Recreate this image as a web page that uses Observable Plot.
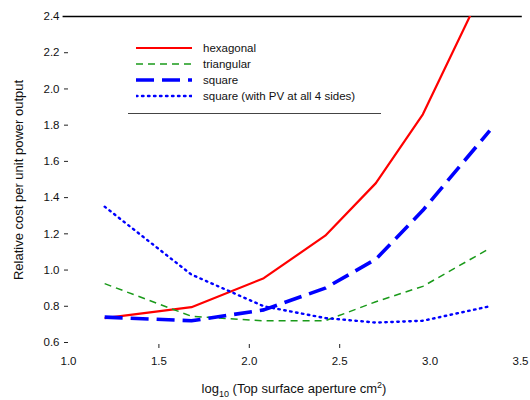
<!DOCTYPE html>
<html>
<head>
<meta charset="utf-8">
<script src="https://cdn.jsdelivr.net/npm/d3@7"></script>
<script src="https://cdn.jsdelivr.net/npm/@observablehq/plot@0.6"></script>
<style>
  body { margin: 0; background: #fff; }
  #wrap { position: relative; width: 530px; height: 400px; font-family: "Liberation Sans", Arial, sans-serif; }
  #legend { position: absolute; left: 128px; top: 40px; width: 253px; font-size: 11.5px; color: #111; }
  #legend .row { display: flex; align-items: center; height: 16px; }
  #legend svg { margin-left: 8px; margin-right: 11px; }
  #legend .sep { position: absolute; left: 0; top: 73px; width: 253px; height: 0; border-top: 1.3px solid #444; }
</style>
</head>
<body>
<div id="wrap"></div>
<script>
// Data
const xs        = [1.2, 1.68, 2.08, 2.42, 2.70, 2.96, 3.33];
const hexagonal = [0.735, 0.795, 0.955, 1.19, 1.48, 1.86, 2.63];
const triangular= [0.925, 0.745, 0.72, 0.72, 0.825, 0.91, 1.12];
const square    = [0.74, 0.72, 0.78, 0.90, 1.06, 1.33, 1.77];
const squarePV  = [1.35, 0.975, 0.80, 0.735, 0.71, 0.72, 0.80];
const seriesNames = ["hexagonal", "triangular", "square", "square (with PV at all 4 sides)"];
const yTicks = [0.6, 0.8, 1.0, 1.2, 1.4, 1.6, 1.8, 2.0, 2.2, 2.4];
const xTicks = [1.0, 1.5, 2.0, 2.5, 3.0, 3.5];
const xTickMarks = [1.5, 2.0, 2.5];

const styles = {
  "hexagonal": {stroke: "#ff0000", strokeWidth: 2.2, strokeDasharray: null},
  "triangular": {stroke: "#1a9a1a", strokeWidth: 1.5, strokeDasharray: "7,5"},
  "square": {stroke: "#0000ff", strokeWidth: 3.6, strokeDasharray: "18,8"},
  "square (with PV at all 4 sides)": {stroke: "#0000ff", strokeWidth: 2.4, strokeDasharray: "1.5,4.5"}
};
const values = [hexagonal, triangular, square, squarePV];

const lineMarks = seriesNames.map((name, i) => {
  const data = xs.map((x, j) => ({x, y: values[i][j]}));
  const s = styles[name];
  return Plot.line(data, {x: "x", y: "y", stroke: s.stroke, strokeWidth: s.strokeWidth,
    strokeDasharray: s.strokeDasharray, strokeLinecap: s.strokeDasharray && s.strokeDasharray.startsWith("1.5") ? "round" : "butt",
    clip: true});
});

const chart = Plot.plot({
  width: 530,
  height: 400,
  marginLeft: 68,
  marginRight: 10,
  marginTop: 16,
  marginBottom: 58,
  style: {fontFamily: "Liberation Sans, Arial, sans-serif", fontSize: "11.5px", color: "#111", background: "white"},
  x: {domain: [1.0, 3.5]},
  y: {domain: [0.6, 2.4]},
  marks: [
    Plot.axisY(yTicks, {tickFormat: d3.format(".1f"), tickSize: 4, tickPadding: 5, label: null, stroke: "#222", fill: "#111"}),
    Plot.axisX(xTicks, {tickFormat: d3.format(".1f"), tickSize: 0, tickPadding: 14, label: null, fill: "#111"}),
    Plot.axisX(xTickMarks, {text: null, tickSize: 4, dy: 2, stroke: "#222", label: null}),
    Plot.ruleY([2.4], {stroke: "#000", strokeWidth: 1.5, x1: 0.97, x2: 3.51}),
    ...lineMarks
  ]
});

const svg = d3.select(chart);
// Y axis title
svg.append("text")
  .attr("transform", "translate(23,180) rotate(-90)")
  .attr("text-anchor", "middle")
  .attr("font-size", 13)
  .attr("fill", "#111")
  .text("Relative cost per unit power output");
// X axis title with subscript and superscript
const xt = svg.append("text")
  .attr("x", 294).attr("y", 393)
  .attr("text-anchor", "middle")
  .attr("font-size", 13)
  .attr("fill", "#111");
xt.append("tspan").text("log");
xt.append("tspan").attr("font-size", 9).attr("dy", 4).text("10");
xt.append("tspan").attr("dy", -4).text(" (Top surface aperture cm");
xt.append("tspan").attr("font-size", 9).attr("dy", -5).text("2");
xt.append("tspan").attr("dy", 5).text(")");

const wrap = document.getElementById("wrap");
wrap.appendChild(chart);

// Legend overlay
const legend = document.createElement("div");
legend.id = "legend";
seriesNames.forEach(name => {
  const s = styles[name];
  const row = document.createElement("div");
  row.className = "row";
  const sw = d3.create("svg").attr("width", 56).attr("height", 10);
  sw.append("line").attr("x1", 0).attr("x2", 56).attr("y1", 5).attr("y2", 5)
    .attr("stroke", s.stroke).attr("stroke-width", s.strokeWidth)
    .attr("stroke-dasharray", s.strokeDasharray)
    .attr("stroke-linecap", s.strokeDasharray && s.strokeDasharray.startsWith("1.5") ? "round" : "butt");
  row.appendChild(sw.node());
  const t = document.createElement("span");
  t.textContent = name;
  row.appendChild(t);
  legend.appendChild(row);
});
const sep = document.createElement("div");
sep.className = "sep";
legend.appendChild(sep);
wrap.appendChild(legend);
</script>
</body>
</html>
